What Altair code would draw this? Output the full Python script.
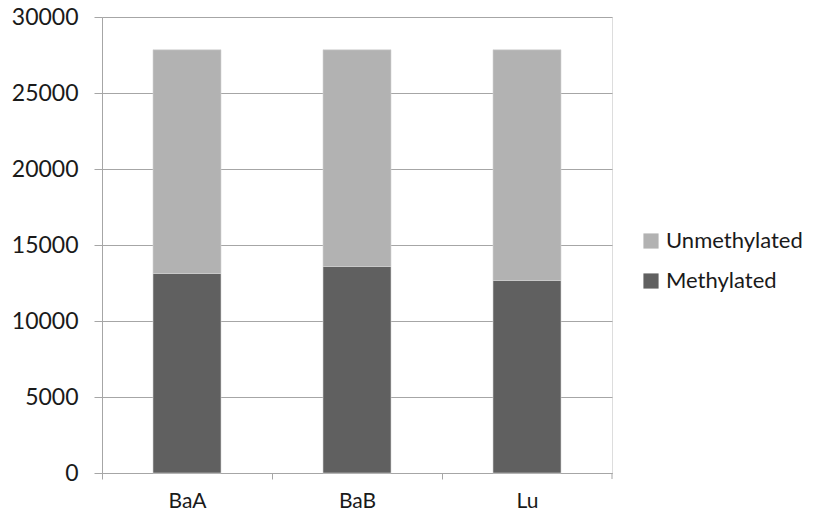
import altair as alt
import pandas as pd

# Methylation counts per sample
samples = ["BaA", "BaB", "Lu"]
methylated = [13125, 13586, 12664]
unmethylated = [14717, 14256, 15178]

statuses = ["Unmethylated", "Methylated"]
colors = ["#b2b2b2", "#606060"]

rows = []
for s, m, u in zip(samples, methylated, unmethylated):
    rows.append({"sample": s, "status": "Methylated", "count": m, "order": 0})
    rows.append({"sample": s, "status": "Unmethylated", "count": u, "order": 1})
df = pd.DataFrame(rows)

FONT = "Lato"
GRID = "#a6a6a6"
TEXT = "#1a1a1a"

bars = alt.Chart(df).mark_bar(stroke="#d4d4d4", strokeWidth=0.6).encode(
    x=alt.X(
        "sample:N",
        sort=samples,
        title=None,
        scale=alt.Scale(paddingInner=0.6, paddingOuter=0.3),
        axis=alt.Axis(
            labelAngle=0,
            labelFont=FONT,
            labelFontSize=21,
            labelColor=TEXT,
            labelPadding=11,
            tickSize=6,
            tickColor=GRID,
            domainColor=GRID,
            tickOffset=-85,
            labelOffset=85,
            grid=False,
        ),
    ),
    y=alt.Y(
        "count:Q",
        title=None,
        stack="zero",
        scale=alt.Scale(domain=[0, 30000], nice=False),
        axis=alt.Axis(
            values=[0, 5000, 10000, 15000, 20000, 25000, 30000],
            format="d",
            labelFont=FONT,
            labelFontSize=23,
            labelColor=TEXT,
            labelPadding=16,
            tickSize=8,
            tickColor=GRID,
            domainColor=GRID,
            gridColor=GRID,
            gridWidth=1.2,
        ),
    ),
    color=alt.Color(
        "status:N",
        sort=statuses,
        scale=alt.Scale(domain=statuses, range=colors),
        legend=alt.Legend(
            title=None,
            orient="none",
            legendX=538,
            legendY=213,
            symbolType="square",
            symbolSize=230,
            symbolStrokeWidth=0,
            labelFont=FONT,
            labelFontSize=22,
            labelColor=TEXT,
            rowPadding=18,
            labelOffset=4,
        ),
    ),
    order=alt.Order("order:Q"),
)

# closing tick at the right end of the category axis
end_tick = alt.Chart(pd.DataFrame({"v": [0]})).mark_rule(color=GRID).encode(
    x=alt.value(510), y=alt.value(456), y2=alt.value(462)
)

chart = (
    alt.layer(bars, end_tick)
    .properties(
        width=510,
        height=456,
        padding={"left": 102, "top": 17, "right": 202, "bottom": 49},
        autosize=alt.AutoSizeParams(type="none"),
    )
    .configure_view(stroke=None)
    .configure(background="white")
)

chart.save("out.html", embed_options={"renderer": "svg", "actions": False})
